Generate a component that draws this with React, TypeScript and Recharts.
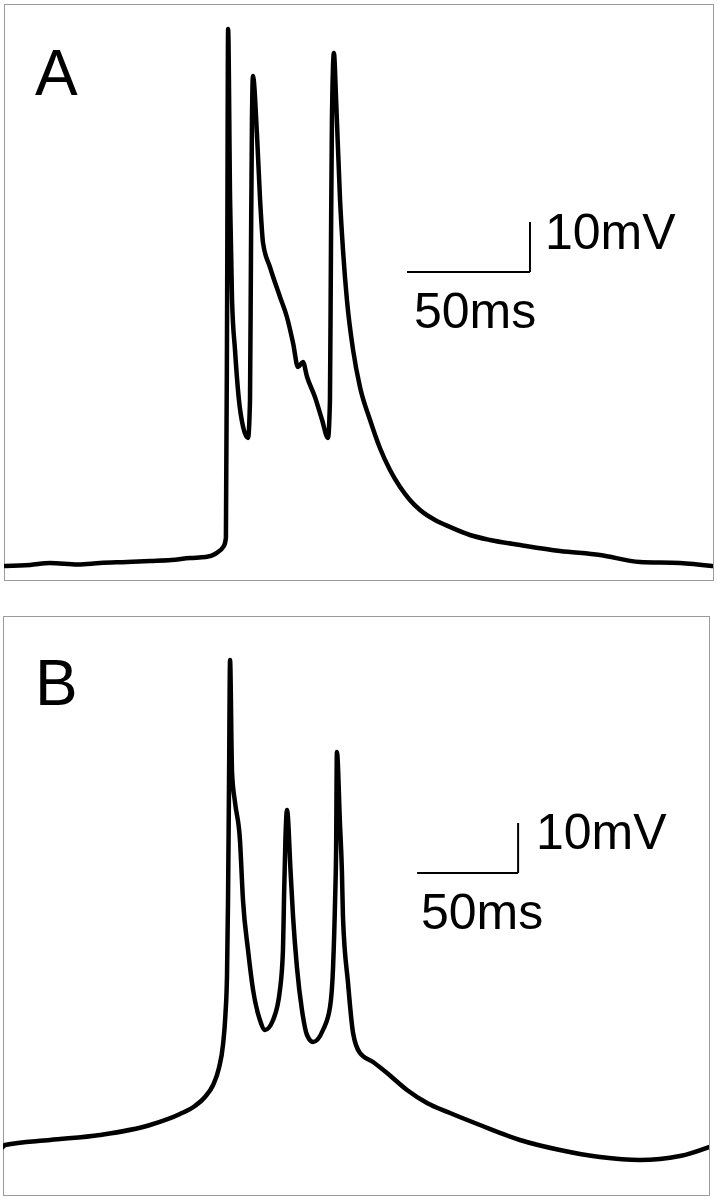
import { LineChart, Line, XAxis, YAxis, ReferenceLine } from 'recharts';

// Recording A: time (ms) and membrane potential (mV)
const timeA = [
  0.4, 10.6, 18.7, 30, 39.0, 50, 59.3, 68, 75.6, 82, 85.8, 89.4, 90.2, 90.7, 91.1, 91.9, 92.7, 93.9, 95.5,
  97.2, 99.2, 100.0, 100.4, 100.8, 101.2, 102.8, 104.1, 105.3, 108.1, 112.2, 115.0, 117.5, 119.5, 121.5,
  123.2, 126.4, 129.3, 131.7, 132.5, 132.9, 133.3, 134.1, 135.0, 136.6, 137.8, 139.4, 141.9, 144.7, 148.8,
  152.8, 156.9, 161.0, 165.0, 169.1, 175.2, 181.3, 189.4, 197.6, 209.8, 226.0, 242.3, 258.5, 274.8, 287.8,
];
const voltA = [
  -70.2, -70.0, -69.6, -69.9, -69.6, -69.4, -69.2, -69.0, -68.6, -68.4, -67.8, -66.2, -64.6, -17, 37.2, 3,
  -17, -27, -37, -42.4, -44.6, -37, -7, 19, 27.8, 16.4, 3, -5.6, -10.4, -16.4, -20.4, -25.6, -30.4, -29.4,
  -32.4, -36.4, -41, -44.6, -37, -7, 19, 32.4, 23, 3, -7, -17, -27, -34.4, -41, -46.6, -51, -54.4, -57,
  -59, -61, -62.4, -64, -65, -66, -67.2, -68, -69.4, -69.6, -70.2,
];

// Recording B: time (ms) and membrane potential (mV)
const timeB = [
  0, 1.0, 23.3, 48.0, 72.8, 87.6, 95.0, 100.0, 104.0, 106.9, 108.9, 110.1, 110.9, 111.4, 111.9, 112.4,
  113.4, 114.9, 117.3, 118.8, 121.3, 123.8, 127.2, 129.7, 133.7, 137.1, 138.6, 139.1, 139.8, 140.6, 142.4,
  143.6, 145.5, 148.0, 150.5, 153.5, 158.4, 161.9, 163.4, 164.4, 164.9, 165.3, 166.8, 167.8, 168.3, 170.8,
  173.3, 176.7, 183.2, 190.1, 200.0, 209.9, 221.3, 236.1, 255.9, 275.7, 295.5, 315.3, 335.1, 349.5,
];
const voltB = [
  -63.4, -63, -62, -61, -59, -56.8, -55.2, -53.4, -51, -47.6, -43, -37, -29, -14, 10, 34, 11.4, 5.4, -2,
  -14, -24, -32, -38, -40, -38, -32, -24, -14, -2, 4, -8.6, -17.4, -27.4, -36, -41, -42.4, -40, -35.4,
  -27.4, -14, -4, 15.6, 1.4, -8.6, -17.4, -30.6, -40.6, -44.6, -46.4, -48.6, -52, -54.6, -56.6, -59, -62,
  -64, -65.4, -66, -65.2, -63.4,
];

const panelLetters = ['A', 'B'];
const scaleLabels = ['10mV', '50ms'];

const font = '"Liberation Sans", Arial, Helvetica, sans-serif';

const toRows = (t: number[], v: number[]) => t.map((x, i) => ({ t: x, v: v[i] }));

type PanelProps = {
  letter: string;
  times: number[];
  volts: number[];
  left: number;
  top: number;
  width: number;
  height: number;
  tMax: number;
  vMin: number;
  vMax: number;
  barX: number;
  barY: number;
  letterPos: [number, number];
  mvPos: [number, number];
  msPos: [number, number];
};

const Panel = (p: PanelProps) => {
  const rows = toRows(p.times, p.volts);
  return (
    <>
      <div
        style={{
          position: 'absolute',
          left: p.left,
          top: p.top,
          width: p.width + 1,
          height: p.height + 1,
          boxSizing: 'border-box',
          border: '1px solid #9b9b9b',
        }}
      />
      <div style={{ position: 'absolute', left: p.left, top: p.top }}>
        <LineChart width={p.width} height={p.height} data={rows} margin={{ top: 0, right: 0, bottom: 0, left: 0 }}>
          <XAxis type="number" dataKey="t" domain={[0, p.tMax]} hide />
          <YAxis type="number" domain={[p.vMin, p.vMax]} hide />
          <ReferenceLine
            segment={[{ x: p.barX, y: p.barY }, { x: p.barX + 50, y: p.barY }]}
            stroke="#000"
            strokeWidth={2}
            ifOverflow="visible"
          />
          <ReferenceLine
            segment={[{ x: p.barX + 50, y: p.barY }, { x: p.barX + 50, y: p.barY + 10 }]}
            stroke="#000"
            strokeWidth={2}
            ifOverflow="visible"
          />
          <Line
            type="monotone"
            dataKey="v"
            stroke="#000"
            strokeWidth={4.5}
            strokeLinejoin="round"
            strokeLinecap="round"
            dot={false}
            isAnimationActive={false}
          />
        </LineChart>
      </div>
      <svg
        width={717}
        height={1199}
        style={{ position: 'absolute', left: 0, top: 0, pointerEvents: 'none' }}
        fontFamily={font}
      >
        <text x={p.letterPos[0]} y={p.letterPos[1]} fontSize={64} fill="#000">
          {p.letter}
        </text>
        <text x={p.mvPos[0]} y={p.mvPos[1]} fontSize={50} fill="#000">
          {scaleLabels[0]}
        </text>
        <text x={p.msPos[0]} y={p.msPos[1]} fontSize={50} fill="#000">
          {scaleLabels[1]}
        </text>
      </svg>
    </>
  );
};

export default function App() {
  return (
    <div style={{ position: 'relative', width: 717, height: 1199, background: '#fff', overflow: 'hidden' }}>
      <style>{'body{margin:0}'}</style>
      <Panel
        letter={panelLetters[0]}
        times={timeA}
        volts={voltA}
        left={4}
        top={4}
        width={709}
        height={576}
        tMax={288.2}
        vMin={-73}
        vMax={42.2}
        barX={163.8}
        barY={-11.4}
        letterPos={[35, 95]}
        mvPos={[545, 249]}
        msPos={[414, 328]}
      />
      <Panel
        letter={panelLetters[1]}
        times={timeB}
        volts={voltB}
        left={3}
        top={616}
        width={706}
        height={579}
        tMax={349.5}
        vMin={-73}
        vMax={42.8}
        barX={205.0}
        barY={-8.6}
        letterPos={[35, 705]}
        mvPos={[536, 849]}
        msPos={[421, 929]}
      />
    </div>
  );
}
